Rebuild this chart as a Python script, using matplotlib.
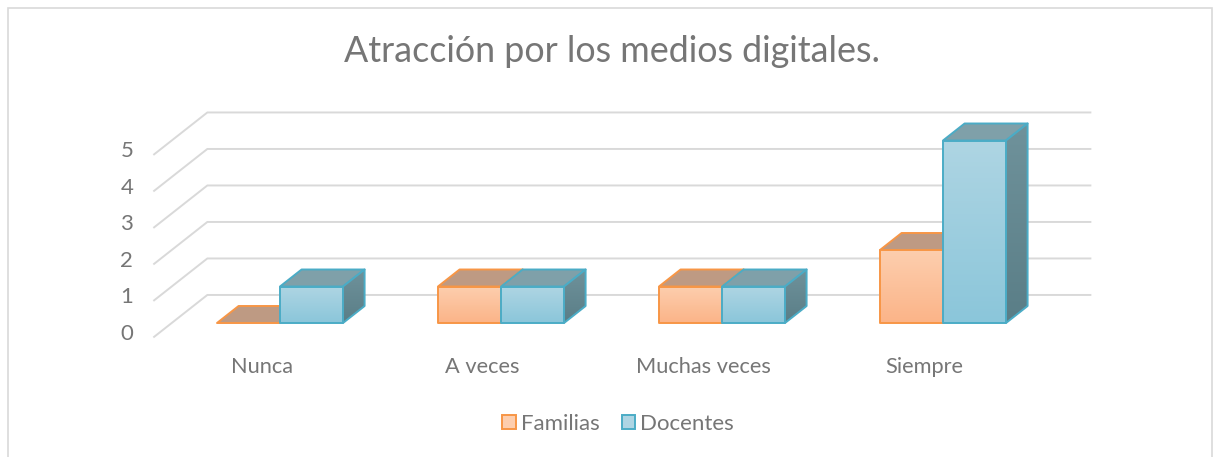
import numpy as np
import matplotlib
matplotlib.use('Agg')
import matplotlib.pyplot as plt
from matplotlib.patches import Polygon, Rectangle, Patch
from matplotlib.colors import LinearSegmentedColormap

# ---- data ----
categories = ['Nunca', 'A veces', 'Muchas veces', 'Siempre']
familias = [0, 1, 1, 2]
docentes = [1, 1, 1, 5]
series_names = ['Familias', 'Docentes']
yticks = [0, 1, 2, 3, 4, 5]
title = 'Atracción por los medios digitales.'

# ---- styles ----
FONT = ['Lato', 'DejaVu Sans']
TXT = '#767676'
GRID = '#D9D9D9'
styles = {
    'Familias': dict(front=('#FDCEAE', '#FBB488'), top='#BE9A83', side=('#A88670', '#9A7A65'), edge='#F79646'),
    'Docentes': dict(front=('#AED5E3', '#8BC6DA'), top='#7FA0A9', side=('#6F929B', '#5A7E87'), edge='#4BACC6'),
}

W, H = 1219, 457
fig = plt.figure(figsize=(W / 100, H / 100), dpi=100)
ax = fig.add_axes([0, 0, 1, 1])

CAT_PX, VAL_PX, X0_PX, Y0_ROW = 221.0, 36.5, 280.0, 323.0
XLIM = (-X0_PX / CAT_PX, (W - X0_PX) / CAT_PX)
YLIM = (-(H - Y0_ROW) / VAL_PX, Y0_ROW / VAL_PX)
DDX, DDY = 54 / CAT_PX, 42.5 / VAL_PX
FRONT_D, BACK_D, BAR_D = -0.34, 0.66, 0.40
BW = 63 / CAT_PX
n = len(categories)
XL, XR = -0.49, n - 0.49


def off(d):
    return d * DDX, d * DDY


# gridlines (3D walls)
fx, fy = off(FRONT_D)
bx, by = off(BACK_D)
for v in yticks:
    ax.plot([XL + fx, XL + bx, XR + bx], [v + fy, v + by, v + by], color=GRID, lw=1.4,
            solid_capstyle='butt', zorder=1)
    ax.text(XL + fx - 20 / CAT_PX, v + fy + 0.1, str(v), ha='right', va='center',
            fontsize=16, color=TXT, family=FONT)

for i, c in enumerate(categories):
    ax.text(i + fx, fy - 0.8, c, ha='center', va='center', fontsize=15.7, color=TXT, family=FONT)


def grad_fill(poly, c_top, c_bot, x0, x1, y0, y1, z):
    cmap = LinearSegmentedColormap.from_list('g', [c_bot, c_top])
    g = np.linspace(0, 1, 64).reshape(-1, 1)
    im = ax.imshow(g, extent=[x0, x1, y0, y1], origin='lower', aspect='auto', cmap=cmap,
                   zorder=z, interpolation='bilinear')
    im.set_clip_path(poly)


def draw_box(x0, x1, h, st, z):
    dx, dy = off(BAR_D)
    top = Polygon([(x0, h), (x1, h), (x1 + dx, h + dy), (x0 + dx, h + dy)], closed=True,
                  facecolor=st['top'], edgecolor=st['edge'], lw=1.4, zorder=z, joinstyle='round')
    ax.add_patch(top)
    if h > 0:
        side = Polygon([(x1, 0), (x1 + dx, dy), (x1 + dx, h + dy), (x1, h)], closed=True,
                       facecolor='none', edgecolor=st['edge'], lw=1.4, zorder=z + 0.2, joinstyle='round')
        ax.add_patch(side)
        grad_fill(side, st['side'][0], st['side'][1], x1, x1 + dx, 0, h + dy, z + 0.1)
        front = Rectangle((x0, 0), x1 - x0, h, facecolor='none', edgecolor=st['edge'], lw=1.4,
                          zorder=z + 0.4, joinstyle='round')
        ax.add_patch(front)
        grad_fill(front, st['front'][0], st['front'][1], x0, x1, 0, h, z + 0.3)


for i in range(n):
    draw_box(i - BW, i, familias[i], styles['Familias'], 3 + i)
    draw_box(i, i + BW, docentes[i], styles['Docentes'], 3.5 + i)

ax.set_xlim(*XLIM)
ax.set_ylim(*YLIM)
ax.axis('off')

fig.text(612 / W, 1 - 51 / H, title, ha='center', va='center', fontsize=25.8, color=TXT, family=FONT)

handles = [Patch(facecolor=styles[s]['front'][0], edgecolor=styles[s]['edge'], lw=1.4) for s in series_names]
leg = fig.legend(handles, series_names, loc='center', bbox_to_anchor=(618 / W, 1 - 424 / H),
                 ncol=2, frameon=False, handlelength=0.62, handleheight=0.62, handletextpad=0.2,
                 columnspacing=1.0, prop={'family': FONT, 'size': 16})
for t in leg.get_texts():
    t.set_color(TXT)

fig.patches.append(Rectangle((8 / W, -0.1), (1212 - 8) / W, 1.1 - 8 / H, transform=fig.transFigure,
                             fill=False, edgecolor=GRID, lw=1.2))

fig.savefig('out.png', dpi=100)
